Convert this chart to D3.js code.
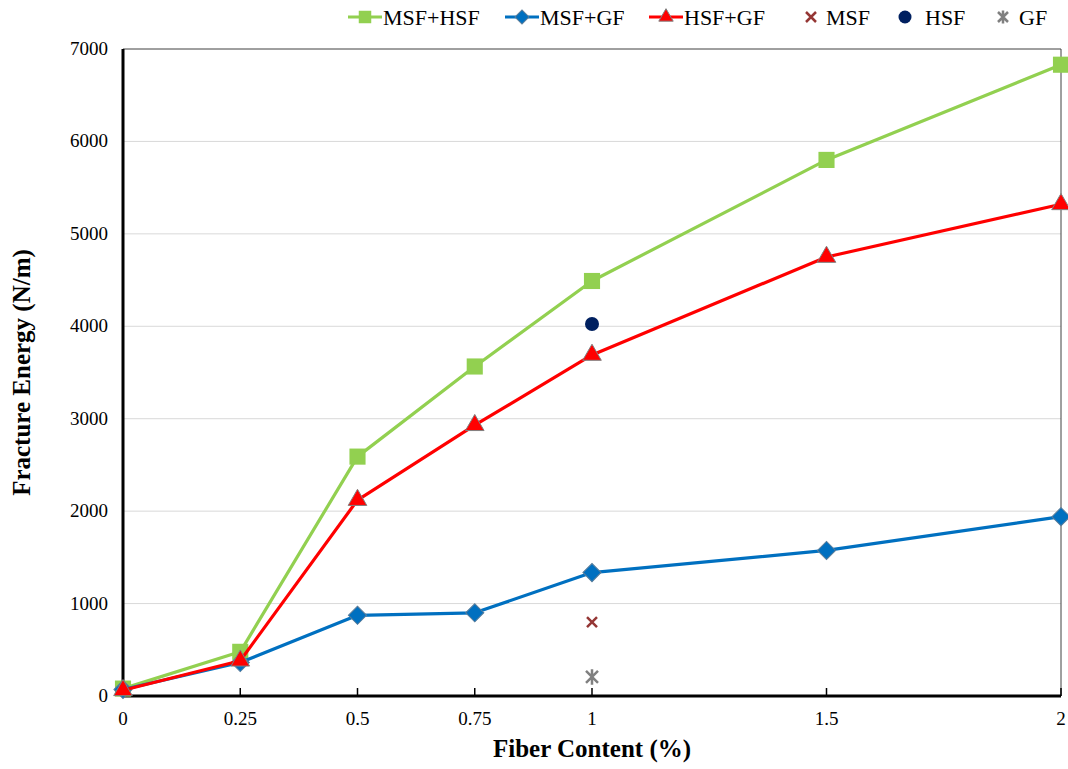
<!DOCTYPE html>
<html>
<head>
<meta charset="utf-8">
<script src="https://cdn.jsdelivr.net/npm/d3@7"></script>
<style>
  body { margin: 0; background: #fff; }
  text { font-family: "Liberation Serif", "Times New Roman", serif; }
</style>
</head>
<body>
<div id="chart"></div>
<script>
// fiber content (%) and fracture energy (N/m)
const fiberContent = [0, 0.25, 0.5, 0.75, 1, 1.5, 2];
const msfHsf = [80, 478, 2590, 3565, 4490, 5800, 6830];
const msfGf = [70, 362, 873, 900, 1335, 1575, 1940];
const hsfGf = [62, 382, 2120, 2930, 3690, 4750, 5320];
// single fibre mixes at 1 %
const singleX = 1;
const msfOnly = 800;
const hsfOnly = 4025;
const gfOnly = 206;
const xTicks = [0, 0.25, 0.5, 0.75, 1, 1.5, 2];
const yTicks = [0, 1000, 2000, 3000, 4000, 5000, 6000, 7000];

const width = 1068, height = 769;
const plotL = 123, plotR = 1061, plotT = 49, plotB = 696;

const svg = d3.select("#chart").append("svg")
    .attr("width", width)
    .attr("height", height)
    .style("background", "#fff");

const x = d3.scaleLinear().domain([0, 2]).range([plotL, plotR]);
const y = d3.scaleLinear().domain([0, 7000]).range([plotB, plotT]);

// gridlines
svg.append("g").selectAll("line")
    .data(yTicks.filter(d => d > 0 && d < 7000))
    .join("line")
    .attr("x1", plotL).attr("x2", plotR)
    .attr("y1", d => y(d)).attr("y2", d => y(d))
    .attr("stroke", "#d9d9d9").attr("stroke-width", 1);

// frame top / right
svg.append("path")
    .attr("d", `M${plotL},${plotT}H${plotR}V${plotB}`)
    .attr("fill", "none").attr("stroke", "#404040").attr("stroke-width", 1);

// y axis labels
svg.append("g").selectAll("text")
    .data(yTicks)
    .join("text")
    .attr("x", 108).attr("y", d => y(d) + 6)
    .attr("text-anchor", "end")
    .style("font-size", "19px")
    .text(d => d);

// x axis ticks & labels
svg.append("g").selectAll("line")
    .data(xTicks.filter(d => d > 0))
    .join("line")
    .attr("x1", d => x(d)).attr("x2", d => x(d))
    .attr("y1", plotB).attr("y2", plotB - 8)
    .attr("stroke", "#000").attr("stroke-width", 1.5);
svg.append("g").selectAll("text")
    .data(xTicks)
    .join("text")
    .attr("x", d => x(d)).attr("y", plotB + 29)
    .attr("text-anchor", "middle")
    .style("font-size", "19px")
    .text(d => d);

// axes lines
svg.append("line").attr("x1", plotL).attr("x2", plotL).attr("y1", plotT).attr("y2", plotB + 1)
    .attr("stroke", "#000").attr("stroke-width", 3);
svg.append("line").attr("x1", plotL - 1).attr("x2", plotR).attr("y1", plotB).attr("y2", plotB)
    .attr("stroke", "#000").attr("stroke-width", 3);

// axis titles
svg.append("text")
    .attr("x", (plotL + plotR) / 2).attr("y", 757)
    .attr("text-anchor", "middle")
    .style("font-size", "25px").style("font-weight", "bold")
    .text("Fiber Content (%)");
svg.append("text")
    .attr("transform", `translate(30,${(plotT + plotB) / 2}) rotate(-90)`)
    .attr("text-anchor", "middle")
    .style("font-size", "25px").style("font-weight", "bold")
    .text("Fracture Energy (N/m)");

const series = [
    { name: "MSF+HSF", values: msfHsf, color: "#92d050", symbol: d3.symbolSquare, size: 260, rot: 0, stroke: "none" },
    { name: "MSF+GF", values: msfGf, color: "#0070c0", symbol: d3.symbolSquare, size: 165, rot: 45, stroke: "#5a7d9a" },
    { name: "HSF+GF", values: hsfGf, color: "#ff0000", symbol: d3.symbolTriangle, size: 150, rot: 0, stroke: "#808080" }
];

const line = d3.line().x(d => x(d[0])).y(d => y(d[1]));

series.forEach(s => {
    const pts = fiberContent.map((f, i) => [f, s.values[i]]);
    svg.append("path")
        .datum(pts)
        .attr("d", line)
        .attr("fill", "none")
        .attr("stroke", s.color)
        .attr("stroke-width", 3.2)
        .attr("stroke-linejoin", "round");
    svg.append("g").selectAll("path")
        .data(pts)
        .join("path")
        .attr("transform", d => `translate(${x(d[0])},${y(d[1])}) rotate(${s.rot})`)
        .attr("d", d3.symbol().type(s.symbol).size(s.size))
        .attr("fill", s.color)
        .attr("stroke", s.stroke)
        .attr("stroke-width", 1);
});

// single points
function crossPath(r) {
    return `M${-r},${-r}L${r},${r}M${-r},${r}L${r},${-r}`;
}
function starPath(r) {
    return crossPath(r) + `M0,${-r * 1.3}V${r * 1.3}`;
}
svg.append("path")
    .attr("transform", `translate(${x(singleX)},${y(msfOnly)})`)
    .attr("d", crossPath(5))
    .attr("stroke", "#953735").attr("stroke-width", 2.5).attr("fill", "none");
svg.append("circle")
    .attr("cx", x(singleX)).attr("cy", y(hsfOnly)).attr("r", 7)
    .attr("fill", "#002060");
svg.append("path")
    .attr("transform", `translate(${x(singleX)},${y(gfOnly)})`)
    .attr("d", starPath(6))
    .attr("stroke", "#808080").attr("stroke-width", 2.5).attr("fill", "none");

// legend
const legY = 17;
const legend = svg.append("g");
const lineItems = [
    { s: series[0], x0: 348, tx: 383 },
    { s: series[1], x0: 505, tx: 540 },
    { s: series[2], x0: 649, tx: 684 }
];
lineItems.forEach(it => {
    legend.append("line")
        .attr("x1", it.x0).attr("x2", it.x0 + 34)
        .attr("y1", legY).attr("y2", legY)
        .attr("stroke", it.s.color).attr("stroke-width", 3.2);
    legend.append("path")
        .attr("transform", `translate(${it.x0 + 17},${legY}) rotate(${it.s.rot})`)
        .attr("d", d3.symbol().type(it.s.symbol).size(it.s.size * 0.6))
        .attr("fill", it.s.color)
        .attr("stroke", it.s.stroke).attr("stroke-width", 1);
    legend.append("text")
        .attr("x", it.tx).attr("y", legY + 8)
        .style("font-size", "22px")
        .text(it.s.name);
});
legend.append("path")
    .attr("transform", `translate(811,${legY})`)
    .attr("d", crossPath(5))
    .attr("stroke", "#953735").attr("stroke-width", 2.5).attr("fill", "none");
legend.append("text").attr("x", 826).attr("y", legY + 8).style("font-size", "22px").text("MSF");
legend.append("circle").attr("cx", 905).attr("cy", legY).attr("r", 6.5).attr("fill", "#002060");
legend.append("text").attr("x", 925).attr("y", legY + 8).style("font-size", "22px").text("HSF");
legend.append("path")
    .attr("transform", `translate(1003,${legY})`)
    .attr("d", starPath(5))
    .attr("stroke", "#808080").attr("stroke-width", 2.5).attr("fill", "none");
legend.append("text").attr("x", 1019).attr("y", legY + 8).style("font-size", "22px").text("GF");
</script>
</body>
</html>
